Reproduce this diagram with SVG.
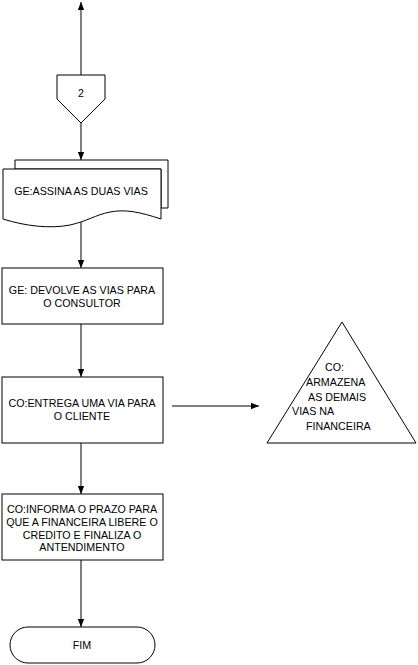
<svg xmlns="http://www.w3.org/2000/svg" width="418" height="665" viewBox="0 0 418 665">
<defs>
<marker id="ah" viewBox="0 0 10 10" refX="10" refY="5" markerWidth="8" markerHeight="8" markerUnits="userSpaceOnUse" orient="auto">
<path d="M0,1 L10,5 L0,9 Z" fill="#000"/>
</marker>
<style>
.s{fill:#fff;stroke:#000;stroke-width:1}
.t{font-family:"Liberation Sans",Arial,sans-serif;font-size:10.7px;fill:#000;text-anchor:middle;dominant-baseline:central}
.tl{font-family:"Liberation Sans",Arial,sans-serif;font-size:10.7px;fill:#000;dominant-baseline:central}
.c{stroke:#000;stroke-width:1;fill:none;marker-end:url(#ah)}
</style>
</defs>
<rect width="418" height="665" fill="#fff"/>
<g id="connectors">
<line class="c" x1="81" y1="75" x2="81" y2="2"/>
<line class="c" x1="81" y1="123" x2="81" y2="160"/>
<line class="c" x1="81" y1="222" x2="81" y2="268"/>
<line class="c" x1="81" y1="324" x2="81" y2="377"/>
<line class="c" x1="172" y1="406" x2="259" y2="406"/>
<line class="c" x1="81" y1="443" x2="81" y2="494"/>
<line class="c" x1="81" y1="560" x2="81" y2="627"/>
</g>
<g id="n_offpage">
<path class="s" d="M57,75 H105 V99 L81,123 L57,99 Z"/>
<text class="t" x="81" y="93">2</text>
</g>
<g id="n_assina">
<path class="s" d="M15,160 H168 V208 H161 V169 H15 Z"/>
<path class="s" d="M3,169 H161 V219 C140,212 125,209 110,212 C95,215 88,221 70,225 C50,229 25,226 3,219 Z"/>
<text class="t" x="81" y="191">GE:ASSINA AS DUAS VIAS</text>
</g>
<g id="n_devolve">
<rect class="s" x="2" y="268" width="161" height="56"/>
<text class="t" x="82" y="290">GE: DEVOLVE AS VIAS PARA</text>
<text class="t" x="82" y="303">O CONSULTOR</text>
</g>
<g id="n_entrega">
<rect class="s" x="2" y="377" width="161" height="66"/>
<text class="t" x="82" y="403">CO:ENTREGA UMA VIA PARA</text>
<text class="t" x="82" y="416">O CLIENTE</text>
</g>
<g id="n_armazena">
<path class="s" d="M342,322 L416,443 H267 Z"/>
<text class="tl" x="325" y="367">CO:</text>
<text class="tl" x="306" y="382">ARMAZENA</text>
<text class="tl" x="308" y="397">AS DEMAIS</text>
<text class="tl" x="292" y="411">VIAS NA</text>
<text class="tl" x="306" y="426">FINANCEIRA</text>
</g>
<g id="n_informa">
<rect class="s" x="2" y="494" width="161" height="66"/>
<text class="t" x="82" y="509">CO:INFORMA O PRAZO PARA</text>
<text class="t" x="82" y="522">QUE A FINANCEIRA LIBERE O</text>
<text class="t" x="82" y="535">CREDITO E FINALIZA O</text>
<text class="t" x="82" y="547">ANTENDIMENTO</text>
</g>
<g id="n_fim">
<rect class="s" x="10" y="627" width="145" height="36" rx="18" ry="18"/>
<text class="t" x="82" y="645">FIM</text>
</g>
</svg>
